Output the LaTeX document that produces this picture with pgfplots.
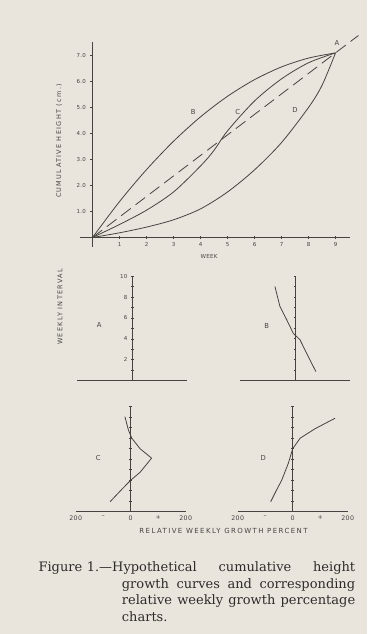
\documentclass[border=0pt]{standalone}
\usepackage{pgfplots}
\pgfplotsset{compat=1.18}
\usepackage{fontspec}
\setmainfont{DejaVu Sans}
\newfontfamily\lbl[LetterSpace=20]{DejaVu Sans}
\newfontfamily\lbs[LetterSpace=6]{DejaVu Sans}
\newfontfamily\capfont{DejaVu Serif}
\definecolor{paper}{RGB}{233,229,221}
\definecolor{ink}{RGB}{70,67,65}
\definecolor{captxt}{RGB}{45,43,41}
\tikzset{letter/.style={font=\lbs\fontsize{6.8}{7}\selectfont, text=ink}}
\pgfplotsset{
  panel/.style={
    scale only axis, width=110pt, height=104.5pt,
    xmin=-200, xmax=200, ymin=0, ymax=10,
    axis lines=center, axis line style={-, ink, line width=0.7pt},
    ytick={1,...,10}, yticklabels={},
    xtick=\empty,
    hide obscured x ticks=false, hide obscured y ticks=false,
    tick align=center, major tick length=2.8pt,
    every tick/.style={ink, line width=0.6pt},
    xtick style={draw=none},
    yticklabel style={font=\lbs\fontsize{5.5}{6}\selectfont, text=ink},
    xticklabel style={font=\lbs\fontsize{6.3}{7}\selectfont, text=ink, yshift=1pt},
    /pgf/number format/assume math mode=true,
    clip=false,
  },
}
\begin{document}
\begin{tikzpicture}
\fill[paper] (0pt,0pt) rectangle (367pt,634pt);
\useasboundingbox (0pt,0pt) rectangle (367pt,634pt);

% ---------- top: cumulative height ----------
\begin{axis}[
  at={(80.35pt,387.4pt)}, anchor=south west,
  scale only axis, width=270pt, height=204.1pt,
  xmin=-0.45, xmax=9.55, ymin=-0.35, ymax=7.5,
  axis lines=middle, axis line style={-, ink, line width=0.7pt},
  hide obscured x ticks=false, hide obscured y ticks=false,
  xtick={1,...,9}, ytick={1,...,7},
  yticklabels={1.0,2.0,3.0,4.0,5.0,6.0,7.0},
  xtick align=center, ytick align=outside,
  major tick length=3pt,
  every tick/.style={ink, line width=0.6pt},
  tick label style={font=\lbs\fontsize{5.5}{6}\selectfont, text=ink},
  xticklabel style={yshift=0.5pt},
  /pgf/number format/assume math mode=true,
  clip=false,
]
\addplot[ink, line width=0.8pt, smooth] coordinates {
  (0,0) (1,1.38) (2,2.61) (3,3.70) (4,4.64) (5,5.43) (6,6.07) (7,6.56) (8,6.90) (9,7.10)};
\addplot[ink, line width=0.8pt, smooth] coordinates {
  (0,0) (1,0.5) (2,1.05) (3,1.75) (4,2.75) (4.5,3.35) (5,4.1) (6,5.25) (7,6.1) (8,6.72) (9,7.1)};
\addplot[ink, line width=0.8pt, smooth] coordinates {
  (0,0) (1,0.18) (2,0.4) (3,0.68) (4,1.1) (5,1.75) (6,2.6) (7,3.65) (8,5.0) (8.5,5.85) (9,7.1)};
\addplot[ink, line width=0.8pt, dash pattern=on 12pt off 6pt] coordinates {(0,0) (9.85,7.77)};
\node[letter] at (axis cs:9.05,7.47) {A};
\node[letter] at (axis cs:3.73,4.84) {B};
\node[letter] at (axis cs:5.38,4.84) {C};
\node[letter] at (axis cs:7.5,4.9) {D};
\end{axis}

% ---------- panel A ----------
\begin{axis}[panel, at={(77.3pt,253.3pt)}, anchor=south west,
  yticklabels={,2,,4,,6,,8,,10}]
\addplot[ink, line width=0.8pt] coordinates {
  (0,1) (0,2) (0,3) (0,4) (0,5) (0,6) (0,7) (0,8) (0,9)};
\node[letter] at (axis cs:-120,5.35) {A};
\end{axis}

% ---------- panel B ----------
\begin{axis}[panel, at={(240pt,253.5pt)}, anchor=south west]
\addplot[ink, line width=0.8pt] coordinates {
  (76,0.85) (48,2.3) (18,3.9) (-6,4.5) (-30,5.8) (-55,7.1) (-73,9.0)};
\node[letter] at (axis cs:-103,5.2) {B};
\end{axis}

% ---------- panel C ----------
\begin{axis}[panel, at={(75.7pt,122.3pt)}, anchor=south west, height=105pt,
  xtick={-200,-100,0,100,200}, xticklabels={200,–,0,+,200}]
\addplot[ink, line width=0.8pt] coordinates {
  (-75,0.95) (-37,2) (0,3.0) (34,3.75) (76,5.1) (34,6.0) (4,7.0) (-8.5,7.8) (-21,9.05)};
\node[letter] at (axis cs:-118,5.14) {C};
\end{axis}

% ---------- panel D ----------
\begin{axis}[panel, at={(237.7pt,122.3pt)}, anchor=south west, height=105pt,
  xtick={-200,-100,0,100,200}, xticklabels={200,–,0,+,200}]
\addplot[ink, line width=0.8pt] coordinates {
  (-80,0.95) (-60,2) (-40,3.0) (-16,4.6) (0,6.0) (27,7.0) (81,7.9) (154,8.9)};
\node[letter] at (axis cs:-107,5.14) {D};
\end{axis}

% ---------- axis titles ----------
\node[rotate=90, font=\lbl\fontsize{6.5}{7}\selectfont, text=ink] at (59pt,493pt) {CUMULATIVE HEIGHT (cm.)};
\node[rotate=90, font=\lbl\fontsize{6.5}{7}\selectfont, text=ink] at (60pt,327pt) {WEEKLY INTERVAL};
\node[font=\lbs\fontsize{5.5}{6}\selectfont, text=ink] at (209pt,377.3pt) {WEEK};
\node[font=\lbl\fontsize{7}{8}\selectfont, text=ink] at (223.5pt,103pt) {RELATIVE WEEKLY GROWTH PERCENT};

% ---------- caption ----------
\begin{scope}[every node/.style={inner sep=0pt, anchor=base west, text=captxt,
    font=\capfont\fontsize{13}{15}\selectfont}]
\node at (38.3pt,62.3pt) {\makebox[316.7pt][s]{Figure\hspace{4.5pt}1.—Hypothetical cumulative height}};
\node at (121.7pt,45.7pt) {\makebox[233.3pt][s]{growth curves and corresponding}};
\node at (121.7pt,29pt) {\makebox[233.3pt][s]{relative weekly growth percentage}};
\node at (121.7pt,12.3pt) {charts.};
\end{scope}
\end{tikzpicture}
\end{document}
